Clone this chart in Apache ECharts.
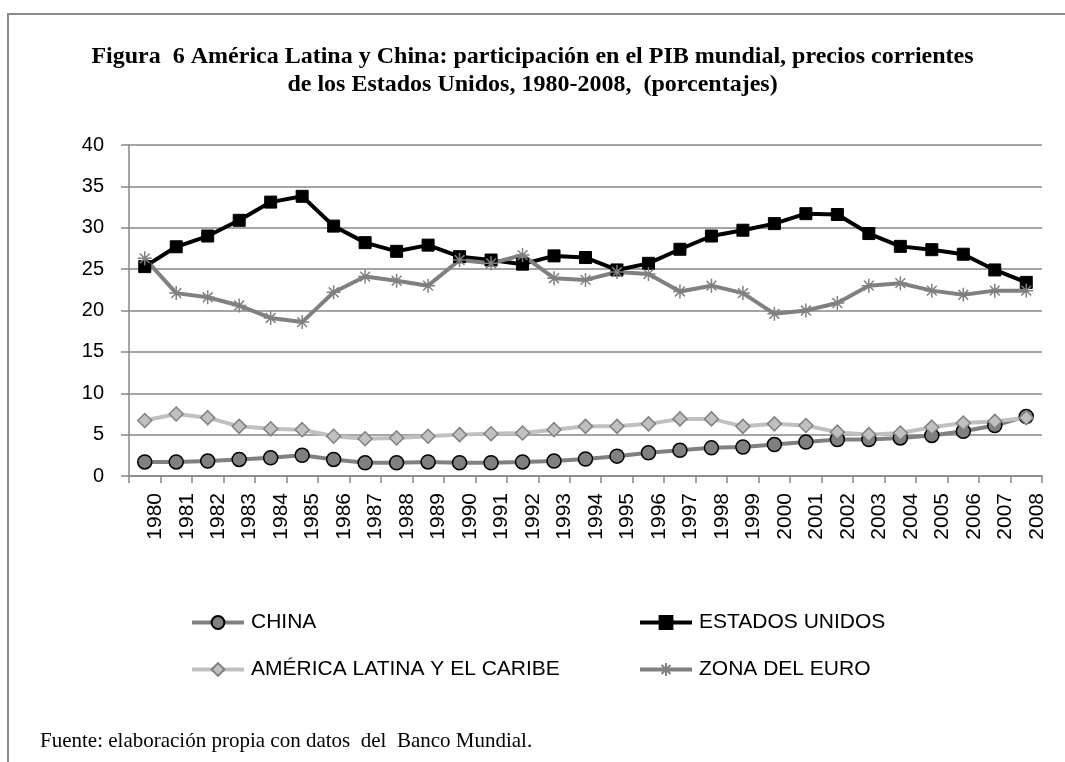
<!DOCTYPE html>
<html>
<head>
<meta charset="utf-8">
<script src="https://cdn.jsdelivr.net/npm/echarts@6/dist/echarts.min.js"></script>
<style>
  html, body { margin: 0; padding: 0; background: #fff; }
  #chart { width: 1065px; height: 762px; }
</style>
</head>
<body>
<div id="chart"></div>
<script>
// años del eje x
const years = ['1980', '1981', '1982', '1983', '1984', '1985', '1986', '1987', '1988', '1989',
  '1990', '1991', '1992', '1993', '1994', '1995', '1996', '1997', '1998', '1999',
  '2000', '2001', '2002', '2003', '2004', '2005', '2006', '2007', '2008']

// participación en el PIB mundial (%)
const china = [1.7, 1.7, 1.8, 2.0, 2.2, 2.5, 2.0, 1.6, 1.6, 1.7,
  1.6, 1.6, 1.7, 1.8, 2.05, 2.4, 2.8, 3.1, 3.4, 3.5,
  3.8, 4.1, 4.4, 4.4, 4.6, 4.9, 5.4, 6.1, 7.2]
const estadosUnidos = [25.3, 27.7, 29.0, 30.9, 33.1, 33.8, 30.2, 28.2, 27.15, 27.9,
  26.5, 26.1, 25.6, 26.6, 26.4, 24.9, 25.7, 27.4, 29.0, 29.7,
  30.5, 31.7, 31.6, 29.3, 27.75, 27.35, 26.8, 24.9, 23.4]
const americaLatina = [6.7, 7.5, 7.05, 6.0, 5.7, 5.6, 4.8, 4.5, 4.6, 4.8,
  5.0, 5.1, 5.2, 5.6, 6.0, 6.0, 6.3, 6.9, 6.9, 6.0,
  6.3, 6.1, 5.3, 5.0, 5.2, 5.9, 6.4, 6.6, 7.05]
const zonaEuro = [26.3, 22.1, 21.6, 20.6, 19.1, 18.6, 22.2, 24.1, 23.6, 23.0,
  26.1, 25.7, 26.7, 23.9, 23.7, 24.65, 24.4, 22.3, 23.0, 22.1,
  19.6, 20.0, 20.9, 23.0, 23.3, 22.4, 21.9, 22.4, 22.4]

const yTicks = [0, 40, 5] // min, max, intervalo

const sansFont = "'Liberation Sans', Arial, sans-serif"
const serifFont = "'Liberation Serif', 'Times New Roman', serif"
const gridGray = '#878787'

// asterisco (x + cruz) para zona del euro
const asterisk = 'path://M0 5L10 5M5 0L5 10M1.5 1.5L8.5 8.5M8.5 1.5L1.5 8.5'

const chart = echarts.init(document.getElementById('chart'))

const legendBase = {
  top: 612,
  orient: 'vertical',
  padding: 0,
  itemGap: 26,
  itemWidth: 52,
  itemHeight: 16,
  lineStyle: { width: 4 },
  textStyle: { fontFamily: sansFont, fontSize: 21, color: '#000', padding: [0, 0, 0, 2] }
}

const option = {
  backgroundColor: '#fff',
  animation: false,
  title: {
    text: 'Figura  6 América Latina y China: participación en el PIB mundial, precios corrientes\nde los Estados Unidos, 1980-2008,  (porcentajes)',
    left: 'center',
    top: 43,
    padding: 0,
    textStyle: {
      fontFamily: serifFont,
      fontWeight: 'bold',
      fontSize: 24,
      lineHeight: 28,
      color: '#000',
      align: 'center'
    }
  },
  graphic: [
    {
      type: 'polyline',
      shape: { points: [[8, 762], [8, 14], [1065, 14]] },
      style: { stroke: '#8c8c8c', lineWidth: 2, fill: null }
    },
    {
      type: 'text',
      left: 40,
      top: 731,
      style: {
        text: 'Fuente: elaboración propia con datos  del  Banco Mundial.',
        fontFamily: serifFont,
        fontSize: 21,
        fill: '#000'
      }
    }
  ],
  grid: {
    left: 129,
    right: 23,
    top: 145,
    bottom: 286
  },
  legend: [
    Object.assign({}, legendBase, { left: 190, data: ['CHINA', 'AMÉRICA LATINA Y EL CARIBE'] }),
    Object.assign({}, legendBase, { left: 638, data: ['ESTADOS UNIDOS', 'ZONA DEL EURO'] })
  ],
  xAxis: {
    type: 'category',
    data: years,
    boundaryGap: true,
    axisLine: { lineStyle: { color: gridGray, width: 1.5 } },
    axisTick: { show: true, length: 7, interval: 0, lineStyle: { color: gridGray, width: 1.5 } },
    axisLabel: {
      interval: 0,
      rotate: 90,
      margin: 17,
      verticalAlign: 'top',
      fontFamily: sansFont,
      fontSize: 21,
      color: '#000'
    }
  },
  yAxis: {
    type: 'value',
    min: yTicks[0],
    max: yTicks[1],
    interval: yTicks[2],
    axisLine: { show: true, lineStyle: { color: gridGray, width: 1.5 } },
    axisTick: { show: true, length: 8, lineStyle: { color: gridGray, width: 1.5 } },
    splitLine: { lineStyle: { color: gridGray, width: 1.5 } },
    axisLabel: {
      margin: 25,
      fontFamily: sansFont,
      fontSize: 20,
      color: '#000'
    }
  },
  series: [
    {
      name: 'CHINA',
      type: 'line',
      data: china,
      symbol: 'circle',
      symbolSize: 14,
      lineStyle: { color: '#808080', width: 4 },
      itemStyle: { color: '#808080', borderColor: '#000', borderWidth: 1.5 }
    },
    {
      name: 'ESTADOS UNIDOS',
      type: 'line',
      data: estadosUnidos,
      symbol: 'rect',
      symbolSize: 12,
      lineStyle: { color: '#000', width: 4 },
      itemStyle: { color: '#000', borderColor: '#000', borderWidth: 1 }
    },
    {
      name: 'AMÉRICA LATINA Y EL CARIBE',
      type: 'line',
      data: americaLatina,
      symbol: 'diamond',
      symbolSize: 14,
      lineStyle: { color: '#c0c0c0', width: 4 },
      itemStyle: { color: '#c0c0c0', borderColor: '#808080', borderWidth: 1.5 }
    },
    {
      name: 'ZONA DEL EURO',
      type: 'line',
      data: zonaEuro,
      symbol: asterisk,
      symbolSize: 14,
      lineStyle: { color: '#808080', width: 4 },
      itemStyle: { color: '#808080', borderColor: '#808080', borderWidth: 1.5 }
    }
  ]
}

chart.setOption(option)
</script>
</body>
</html>
